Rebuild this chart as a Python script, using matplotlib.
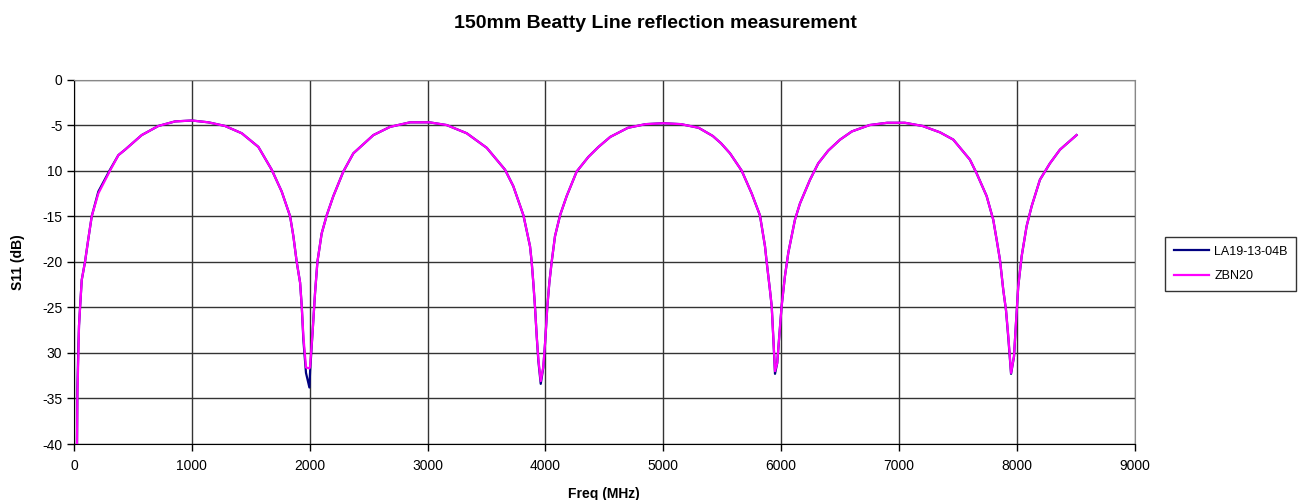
import matplotlib
matplotlib.use("Agg")
import matplotlib.pyplot as plt

plt.rcParams['font.family'] = ['Liberation Sans', 'DejaVu Sans']

# frequency points (MHz)
freq = [25, 28, 37, 42, 51, 65, 93, 122, 150, 206, 305, 376, 433, 574, 715, 857, 1000,
        1140, 1281, 1423, 1564, 1677, 1762, 1833, 1861, 1889, 1918, 1932, 1946, 1968,
        1997, 2003, 2025, 2045, 2065, 2101, 2144, 2200, 2285, 2370, 2540, 2681, 2851,
        3015, 3162, 3332, 3502, 3657, 3727, 3813, 3869, 3883, 3897, 3911, 3926, 3940,
        3960, 3982, 3997, 4016, 4033, 4053, 4081, 4124, 4180, 4265, 4364, 4450, 4550,
        4700, 4850, 5000, 5150, 5300, 5420, 5490, 5566, 5665, 5750, 5820, 5863, 5877,
        5905, 5920, 5933, 5948, 5967, 5984, 6004, 6032, 6061, 6117, 6160, 6245, 6315,
        6400, 6500, 6600, 6750, 6900, 7050, 7200, 7348, 7461, 7602, 7659, 7744, 7800,
        7829, 7857, 7885, 7908, 7928, 7951, 7976, 7993, 8012, 8041, 8083, 8126, 8196,
        8281, 8366, 8507]

# ZBN20 (magenta)
s11_zbn = [-40.0, -34.8, -30.0, -27.0, -25.0, -22.0, -20.0, -17.4, -15.0, -12.5, -10.0, -8.3,
           -7.7, -6.1, -5.1, -4.6, -4.5,
           -4.7, -5.1, -5.9, -7.4, -9.9, -12.3, -15.0, -17.2, -20.0, -22.3, -24.9, -28.2, -31.6,
           -31.7, -31.5, -27.5, -23.4, -20.0, -16.9, -14.9, -12.8, -10.1, -8.1, -6.1, -5.2, -4.7,
           -4.7, -5.0, -5.9, -7.5, -9.9, -11.7, -14.9, -18.3, -20.0, -22.3, -24.9, -28.2, -30.7,
           -33.1, -31.5, -28.9, -24.9, -22.3, -20.0, -17.2, -14.9, -12.8, -10.1, -8.5, -7.4, -6.3,
           -5.3, -4.9, -4.8, -4.9, -5.3, -6.2, -7.0, -8.1, -10.0, -12.5, -14.9, -18.3, -20.0,
           -23.1, -24.9, -28.2, -32.0, -31.1, -28.2, -24.9, -21.6, -19.0, -15.4, -13.6, -11.0, -9.2,
           -7.8, -6.6, -5.7, -5.0, -4.75, -4.75, -5.1, -5.8, -6.6, -8.8, -10.3, -12.8, -15.4,
           -17.6, -19.8, -23.1, -25.3, -28.2, -32.2, -30.4, -26.7, -22.7, -19.4, -16.1, -13.9, -11.0,
           -9.2, -7.7, -6.1]

# LA19-13-04B (navy), nearly identical except near the dips
s11_la = [-40.0, -34.0, -29.0, -27.0, -25.0, -22.0, -20.0, -17.4, -15.0, -12.3, -9.9, -8.3,
          -7.7, -6.1, -5.1, -4.6, -4.5,
          -4.7, -5.1, -5.9, -7.4, -9.9, -12.3, -15.0, -17.2, -20.0, -22.3, -24.9, -28.6, -32.2,
          -33.8, -32.0, -27.5, -23.4, -20.0, -16.9, -14.9, -12.8, -10.1, -8.1, -6.1, -5.2, -4.7,
          -4.7, -5.0, -5.9, -7.5, -9.9, -11.7, -14.9, -18.3, -20.0, -22.3, -24.9, -28.2, -30.9,
          -33.4, -31.6, -28.9, -24.9, -22.3, -20.0, -17.2, -14.9, -12.8, -10.1, -8.5, -7.4, -6.3,
          -5.3, -4.9, -4.8, -4.9, -5.3, -6.2, -7.0, -8.1, -10.0, -12.5, -14.9, -18.3, -20.0,
          -23.1, -24.9, -28.2, -32.3, -31.1, -28.2, -24.9, -21.6, -19.0, -15.4, -13.6, -11.0, -9.2,
          -7.8, -6.6, -5.7, -5.0, -4.75, -4.75, -5.1, -5.8, -6.6, -8.8, -10.3, -12.8, -15.4,
          -17.6, -19.8, -23.1, -25.3, -28.4, -32.3, -30.4, -26.7, -22.7, -19.4, -16.1, -13.9, -11.0,
          -9.2, -7.7, -6.1]

yticks = [0, -5, -10, -15, -20, -25, -30, -35, -40]
ytick_labels = ['0', '-5', '10', '-15', '-20', '-25', '30', '-35', '-40']
xticks = [0, 1000, 2000, 3000, 4000, 5000, 6000, 7000, 8000, 9000]

fig = plt.figure(figsize=(13.11, 5.0), dpi=100)
ax = fig.add_axes([0.0565, 0.112, 0.809, 0.729])

ax.plot(freq, s11_la, color='#000080', lw=1.6, label='LA19-13-04B', zorder=3)
ax.plot(freq, s11_zbn, color='#ff00ff', lw=1.6, label='ZBN20', zorder=4)

ax.set_xlim(0, 9000)
ax.set_ylim(-40, 0)
ax.set_xticks(xticks)
ax.set_yticks(yticks, ytick_labels)
ax.tick_params(labelsize=10, direction='out', length=5, width=1, color='black')
ax.tick_params(axis='x', pad=6)
ax.grid(True, color='#333333', lw=1)
ax.set_axisbelow(True)
for s in ['top', 'right']:
    ax.spines[s].set_color('#888888')
for s in ['left', 'bottom']:
    ax.spines[s].set_color('black')

ax.set_xlabel('Freq (MHz)', fontsize=10, fontweight='bold', labelpad=10)
ax.set_ylabel('S11 (dB)', fontsize=10, fontweight='bold', labelpad=12)
fig.suptitle('150mm Beatty Line reflection measurement', fontsize=14, fontweight='bold', x=0.5, y=0.97)

leg = fig.legend(loc='center left', bbox_to_anchor=(0.889, 0.472), fontsize=9,
                 frameon=True, fancybox=False, handlelength=2.8, handletextpad=0.4,
                 borderpad=0.7, labelspacing=1.0, borderaxespad=0)
leg.get_frame().set_edgecolor('black')
leg.get_frame().set_linewidth(1)

fig.savefig('out.png', dpi=100)
